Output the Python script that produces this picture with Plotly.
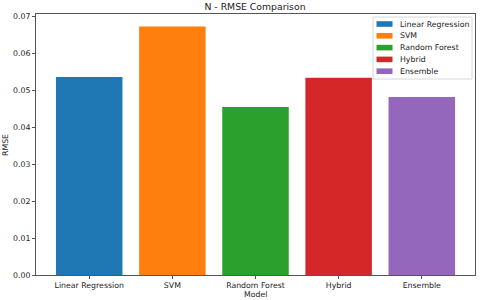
import plotly.graph_objects as go

models = ["Linear Regression", "SVM", "Random Forest", "Hybrid", "Ensemble"]
rmse = [0.0535, 0.0672, 0.0454, 0.0533, 0.0481]
colors = ["#1f77b4", "#ff7f0e", "#2ca02c", "#d62728", "#9467bd"]

W, H = 480, 300
L, R, T, B = 36, 5, 14, 25
PW, PH = W - L - R, H - T - B


def px(x):
    return (x - L) / PW


def py(y):
    return 1 - (y - T) / PH


fig = go.Figure()
for m, v, c in zip(models, rmse, colors):
    fig.add_trace(go.Bar(x=[m], y=[v], name=m, marker_color=c, marker_line_width=0,
                         width=0.8, showlegend=False))

font = "DejaVu Sans"
txt = "#222"
fs = 7.8

# matplotlib-style legend box
shapes = [dict(type="rect", xref="paper", yref="paper", x0=px(373), x1=px(472),
               y0=py(17), y1=py(79), line=dict(color="#d8d8d8", width=1),
               fillcolor="rgba(255,255,255,0.9)", layer="above")]
annotations = []
for i, (m, c) in enumerate(zip(models, colors)):
    yc = 24 + i * 11.8
    shapes.append(dict(type="rect", xref="paper", yref="paper", x0=px(376.5), x1=px(392.5),
                       y0=py(yc + 2.8), y1=py(yc - 2.8), line=dict(width=0), fillcolor=c,
                       layer="above"))
    annotations.append(dict(text=m, xref="paper", yref="paper", x=px(397.5), y=py(yc),
                            xanchor="left", yanchor="middle", showarrow=False,
                            font=dict(size=fs, color=txt, family=font)))

annotations.append(dict(text="Model", xref="paper", yref="paper", x=px(255), y=py(294),
                        xanchor="center", yanchor="middle", showarrow=False,
                        font=dict(size=fs, color=txt, family=font)))
annotations.append(dict(text="RMSE", xref="paper", yref="paper", x=px(5), y=py(145),
                        xanchor="center", yanchor="middle", showarrow=False, textangle=-90,
                        font=dict(size=fs, color=txt, family=font)))

fig.update_layout(
    width=W, height=H,
    margin=dict(l=L, r=R, t=T, b=B, autoexpand=False),
    paper_bgcolor="white", plot_bgcolor="white",
    barmode="overlay",
    showlegend=False,
    font=dict(family=font, size=fs, color=txt),
    title=dict(text="N - RMSE Comparison", x=px(255), xref="paper", xanchor="center",
               y=1 - 7 / H, yanchor="middle", font=dict(size=9.3, color=txt)),
    shapes=shapes,
    annotations=annotations,
    xaxis=dict(type="category", range=[-0.64, 4.64], showline=True, mirror=True, linecolor="#555",
               linewidth=1, ticks="outside", ticklen=3, tickcolor="#555", showgrid=False),
    yaxis=dict(range=[0, 0.07056], dtick=0.01, tickformat=".2f", showline=True, mirror=True,
               linecolor="#555", linewidth=1, ticks="outside", ticklen=3, tickcolor="#555",
               showgrid=False, zeroline=False),
)
fig.write_html("out.html", config={"displayModeBar": False},
               post_script="document.body.style.margin='0';")
